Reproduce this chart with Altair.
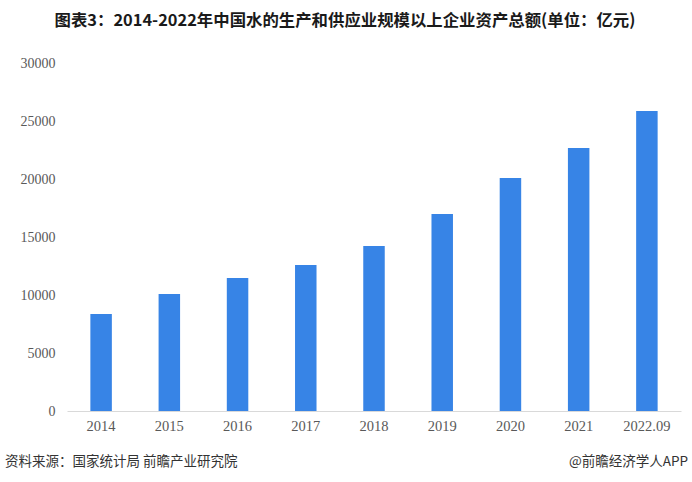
import altair as alt
import pandas as pd

years = ["2014", "2015", "2016", "2017", "2018", "2019", "2020", "2021", "2022.09"]
values = [8360, 10090, 11470, 12590, 14220, 16980, 20090, 22670, 25860]
y_ticks = [0, 5000, 10000, 15000, 20000, 25000, 30000]

title_text = "图表3：2014-2022年中国水的生产和供应业规模以上企业资产总额(单位：亿元)"
source_text = "资料来源：国家统计局 前瞻产业研究院"
brand_text = "@前瞻经济学人APP"

df = pd.DataFrame({"year": years, "value": values})

W, H = 614, 348

bars = alt.Chart(df).mark_bar(color="#3784E6").encode(
    x=alt.X("year:N", sort=None, title=None,
            scale=alt.Scale(paddingInner=0.685, paddingOuter=0.3425),
            axis=alt.Axis(labelAngle=0, labelFont="Liberation Serif", labelFontSize=14.5,
                          labelColor="#595959", ticks=False, domainColor="#d9d9d9",
                          labelPadding=8, grid=False)),
    y=alt.Y("value:Q", title=None,
            scale=alt.Scale(domain=[0, 30000], nice=False),
            axis=alt.Axis(values=y_ticks, labelFont="Liberation Serif", labelFontSize=14,
                          labelColor="#595959", ticks=False, domain=False, grid=False,
                          labelPadding=12, format="d")),
)

title = alt.Chart(pd.DataFrame({"t": [title_text]})).mark_text(
    font="Noto Sans CJK SC", fontSize=16.4, fontWeight="bold", color="#1a1a1a",
    align="center", baseline="middle"
).encode(text="t:N", x=alt.value(278), y=alt.value(-42))

src = alt.Chart(pd.DataFrame({"t": [source_text]})).mark_text(
    font="Noto Sans CJK SC", fontSize=13.5, color="#333333",
    align="left", baseline="middle"
).encode(text="t:N", x=alt.value(-62), y=alt.value(399))

brand = alt.Chart(pd.DataFrame({"t": [brand_text]})).mark_text(
    font="Noto Sans CJK SC", fontSize=13.5, color="#333333",
    align="right", baseline="middle"
).encode(text="t:N", x=alt.value(621), y=alt.value(399))

chart = alt.layer(bars, title, src, brand).properties(
    width=W, height=H,
    autosize=alt.AutoSizeParams(type="none"),
    padding={"left": 67, "top": 63, "right": 11, "bottom": 71},
    background="white",
).configure_view(stroke=None)

chart.save("out.html", embed_options={"renderer": "svg", "actions": False})
